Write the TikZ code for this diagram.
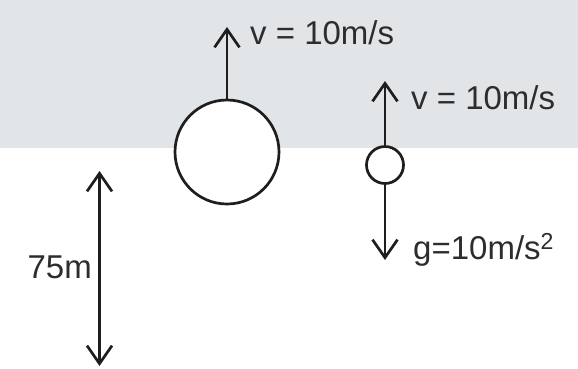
\documentclass[tikz,border=0pt]{standalone}
\usepackage{fontspec}
\setmainfont{Liberation Sans}
\usetikzlibrary{arrows.meta}
\definecolor{bandgray}{RGB}{226,229,232}
\definecolor{ink}{RGB}{30,30,30}
\definecolor{txt}{RGB}{45,45,45}
\tikzset{
  ball/.style={circle,draw=ink,fill=white,line width=2.7pt,inner sep=0pt},
  vec/.style={draw=ink,line width=2.7pt,-{Straight Barb[length=18pt,width=25pt,line width=2.7pt]}},
  dim/.style={draw=ink,line width=2.7pt,{Straight Barb[length=18pt,width=25pt,line width=2.7pt]}-{Straight Barb[length=18pt,width=25pt,line width=2.7pt]}},
  lbl/.style={text=txt,font=\fontsize{33}{38}\selectfont,inner sep=0pt,anchor=base west}
}
\begin{document}
\begin{tikzpicture}[x=1pt,y=-1pt]
\useasboundingbox (0,0) rectangle (578,368);
\fill[white] (0,0) rectangle (578,368);
\fill[bandgray] (0,0) rectangle (578,148);
% big ball
\node[ball,minimum size=104pt] (big) at (227,152) {};
\coordinate (bigtip) at (227,27);
\draw[vec] (big.north) -- (bigtip);
\node[lbl] (v1) at (250,44) {v = 10m/s};
% small ball
\node[ball,minimum size=37pt] (small) at (385,165) {};
\coordinate (uptip) at (385,81);
\coordinate (downtip) at (385,260);
\draw[vec] (small.north) -- (uptip);
\draw[vec] (small.south) -- (downtip);
\node[lbl] (v2) at (411,109) {v = 10m/s};
\node[lbl] (g) at (413,259) {g=10m/s\textsuperscript{2}};
% height
\coordinate (htop) at (99.5,171);
\coordinate (hbot) at (99.5,366);
\draw[dim] (hbot) -- (htop);
\node[lbl,anchor=base east] (h) at (92,278) {75m};
\end{tikzpicture}
\end{document}
